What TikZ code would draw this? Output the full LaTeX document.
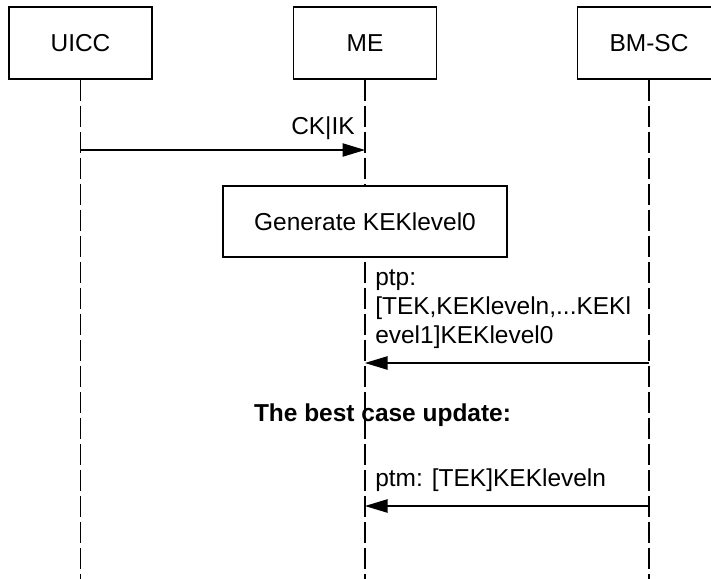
\documentclass[tikz,border=0pt]{standalone}
\usepackage{fontspec}
\setmainfont{Liberation Sans}
\usepackage{tikz}
\usetikzlibrary{arrows.meta}
\definecolor{ink}{HTML}{000000}
\newcommand{\lblfont}{\fontsize{17.4}{20.8}\selectfont}
\tikzset{
  actor/.style={draw=ink, fill=white, line width=0.8pt, minimum width=3.575cm, minimum height=1.8cm, inner sep=0pt, font=\lblfont},
  procbox/.style={draw=ink, fill=white, line width=0.8pt, minimum width=7.1cm, minimum height=1.775cm, inner sep=0pt, font=\lblfont},
  lifeline/.style={draw=ink, line width=0.8pt, dash pattern=on 14.9pt off 3.6pt},
  msg/.style={draw=ink, line width=0.8pt, -{Triangle[length=16pt,width=9.5pt]}},
  lbl/.style={text=ink, font=\lblfont, inner sep=0pt},
  blbl/.style={text=ink, font=\lblfont\bfseries, inner sep=0pt}
}
\begin{document}
\begin{tikzpicture}[x=0.025cm, y=-0.025cm]
  \useasboundingbox (0,0) rectangle (711,579);

  \node[actor] (uicc) at (80.5,43) {UICC};
  \node[actor] (me) at (365,43) {ME};
  \node[actor] (bmsc) at (649,43) {BM-SC};

  \draw[lifeline] (uicc.south) -- ++(0,500);
  \draw[lifeline] (me.south) -- ++(0,500);
  \draw[lifeline] (bmsc.south) -- ++(0,500);

  % UICC -> ME
  \coordinate (ckfrom) at (uicc.south |- 0,150);
  \coordinate (ckto) at (me.south |- 0,150);
  \draw[msg] (ckfrom) -- (ckto);
  \node[lbl, anchor=base east] (ckik) at (355,134) {CK|IK};

  \node[procbox] (gen) at (365,221.5) {Generate KEKlevel0};

  % BM-SC -> ME, ptp
  \coordinate (ptpfrom) at (bmsc.south |- 0,363);
  \coordinate (ptpto) at (me.south |- 0,363);
  \draw[msg] (ptpfrom) -- (ptpto);
  \node[lbl, anchor=west, align=left] (ptp) at (375,309)
    {ptp:\\{}[TEK,KEKleveln,...KEKl\\evel1]KEKlevel0};

  \node[blbl] (best) at (382.5,415) {The best case update:};

  % BM-SC -> ME, ptm
  \coordinate (ptmfrom) at (bmsc.south |- 0,506);
  \coordinate (ptmto) at (me.south |- 0,506);
  \draw[msg] (ptmfrom) -- (ptmto);
  \node[lbl, anchor=west] (ptm) at (375,480) {ptm: [TEK]KEKleveln};
\end{tikzpicture}
\end{document}
